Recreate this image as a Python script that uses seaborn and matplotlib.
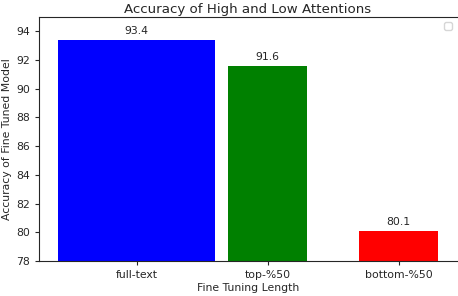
import matplotlib
matplotlib.use("Agg")
import matplotlib.pyplot as plt
import seaborn as sns
import pandas as pd

categories = ["full-text", "top-%50", "bottom-%50"]
accuracy = [93.4, 91.6, 80.1]
colors = ["blue", "green", "red"]
bar_widths = [1.2, 0.6, 0.6]

sns.set_style("ticks")
plt.rcParams['font.family'] = ['DejaVu Sans']

df = pd.DataFrame({"length": categories, "acc": accuracy})

fig = plt.figure(figsize=(4.58, 2.96), dpi=100)
ax = fig.add_axes([39/458, 1-261/296, 418/458, (261-17)/296])
sns.barplot(data=df, x="length", y="acc", hue="length", palette=colors,
            legend=False, ax=ax, saturation=1, width=0.6)

for patch, w in zip(ax.patches, bar_widths):
    cx = patch.get_x() + patch.get_width() / 2
    patch.set_width(w)
    patch.set_x(cx - w / 2)
    patch.set_edgecolor("none")

for patch, v in zip(ax.patches, accuracy):
    ax.text(patch.get_x() + patch.get_width() / 2, v + 0.25, f"{v}",
            ha="center", va="bottom", fontsize=7.8, color="0.15")

ax.set_xlim(-0.745, 2.445)
ax.set_ylim(78, 95)
ax.set_yticks([78, 80, 82, 84, 86, 88, 90, 92, 94])
ax.spines["right"].set_visible(False)
ax.tick_params(labelsize=7.8, length=3)
ax.set_title("Accuracy of High and Low Attentions", fontsize=9.6, pad=3)
ax.set_xlabel("Fine Tuning Length", fontsize=7.8, labelpad=2)
ax.set_ylabel("Accuracy of Fine Tuned Model", fontsize=7.8, labelpad=3)
leg = ax.legend(handles=[], loc="upper right", fontsize=7)

fig.savefig("out.png", dpi=100)
